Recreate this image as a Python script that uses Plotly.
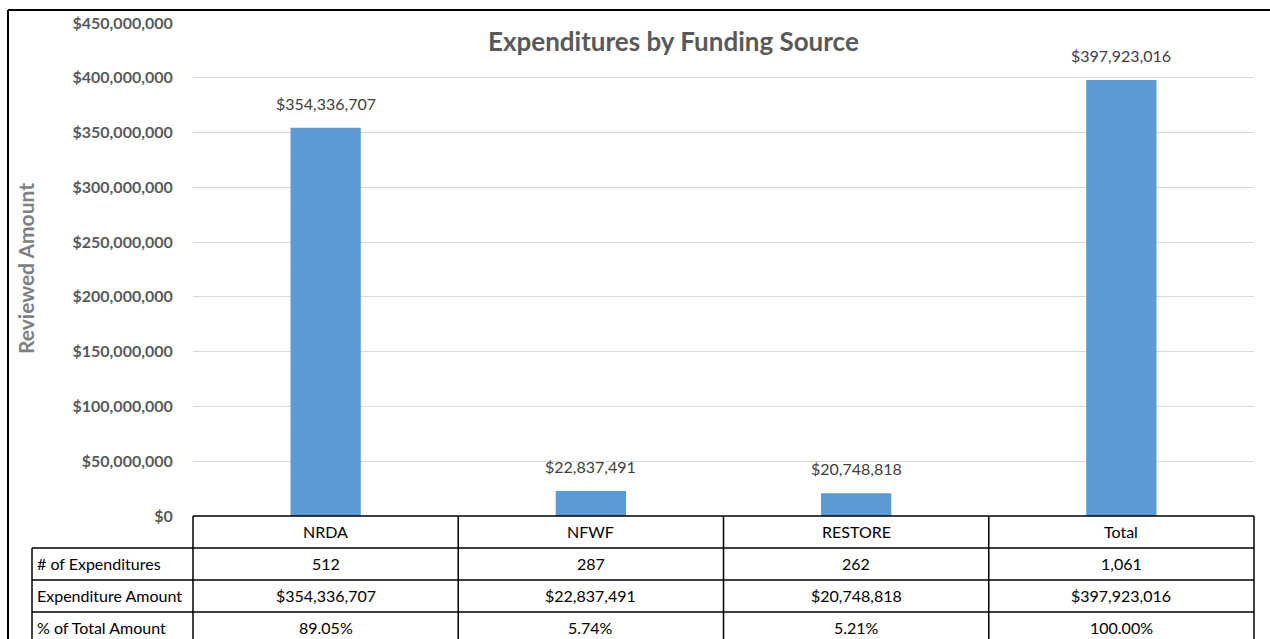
import plotly.graph_objects as go

categories = ["NRDA", "NFWF", "RESTORE", "Total"]
amounts = [354336707, 22837491, 20748818, 397923016]
counts = ["512", "287", "262", "1,061"]
pct_labels = ["89.05%", "5.74%", "5.21%", "100.00%"]
row_labels = ["# of Expenditures", "Expenditure Amount", "% of Total Amount"]

W, H = 1270, 639
FONT = "Lato"

def px(x):
    return x / W

def py(y):
    return (H - y) / H

plot_left, plot_right = 193, 1254
plot_top, plot_bottom = 23, 516
label_left = 32
row_h = 32

fig = go.Figure()
fig.add_trace(go.Bar(
    x=categories, y=amounts,
    marker=dict(color="#5B9BD5", line=dict(width=0)),
    hoverinfo="skip",
))

shapes = []
annotations = []

# value labels above bars
for cat, v in zip(categories, amounts):
    annotations.append(dict(x=cat, y=v, xref="x", yref="y", text=f"${v:,.0f}", showarrow=False,
                            xanchor="center", yanchor="bottom", yshift=13,
                            font=dict(family=FONT, size=16, color="#404040")))

shapes.append(dict(type="line", xref="paper", yref="paper", x0=px(8), x1=px(1270), y0=py(10), y1=py(10),
                   line=dict(color="#000000", width=2)))
shapes.append(dict(type="line", xref="paper", yref="paper", x0=px(8), x1=px(8), y0=py(10), y1=py(645),
                   line=dict(color="#000000", width=2)))

col_w = (plot_right - plot_left) / len(categories)
col_edges = [plot_left + i * col_w for i in range(len(categories) + 1)]
n_rows = 1 + len(row_labels)
row_edges = [plot_bottom + i * row_h for i in range(n_rows + 1)]
line_style = dict(color="#000000", width=1.5)
for i, y in enumerate(row_edges):
    x0 = plot_left if i == 0 else label_left
    shapes.append(dict(type="line", xref="paper", yref="paper", x0=px(x0), x1=px(plot_right),
                       y0=py(y), y1=py(y), line=line_style))
for x in col_edges:
    shapes.append(dict(type="line", xref="paper", yref="paper", x0=px(x), x1=px(x),
                       y0=py(row_edges[0]), y1=py(row_edges[-1]), line=line_style))
shapes.append(dict(type="line", xref="paper", yref="paper", x0=px(label_left), x1=px(label_left),
                   y0=py(row_edges[1]), y1=py(row_edges[-1]), line=line_style))

rows_vals = [counts, [f"${v:,.0f}" for v in amounts], pct_labels]
cell_font = dict(family=FONT, size=16, color="#000000")
for j, cat in enumerate(categories):
    cx = (col_edges[j] + col_edges[j + 1]) / 2
    annotations.append(dict(x=px(cx), y=py(row_edges[0] + row_h / 2 - 1), xref="paper", yref="paper",
                            text=cat, showarrow=False, font=cell_font, xanchor="center", yanchor="middle"))
    for r, vals in enumerate(rows_vals):
        annotations.append(dict(x=px(cx), y=py(row_edges[r + 1] + row_h / 2 - 1), xref="paper", yref="paper",
                                text=vals[j], showarrow=False, font=cell_font, xanchor="center", yanchor="middle"))
for r, lab in enumerate(row_labels):
    annotations.append(dict(x=px(label_left + 3), y=py(row_edges[r + 1] + row_h / 2 - 1), xref="paper", yref="paper",
                            text=lab, showarrow=False, font=cell_font, xanchor="left", yanchor="middle"))

annotations.append(dict(x=px(673), y=py(41), xref="paper", yref="paper", text="<b>Expenditures by Funding Source</b>",
                        showarrow=False, font=dict(family=FONT, size=26, color="#595959"),
                        xanchor="center", yanchor="middle"))
annotations.append(dict(x=px(25), y=py(269), xref="paper", yref="paper", text="<b>Reviewed Amount</b>",
                        showarrow=False, textangle=-90, font=dict(family=FONT, size=21, color="#7F7F7F"),
                        xanchor="center", yanchor="middle"))

fig.update_layout(
    width=W, height=H,
    margin=dict(l=0, r=0, t=0, b=0, pad=0, autoexpand=False),
    paper_bgcolor="white", plot_bgcolor="white",
    showlegend=False,
    bargap=0.735,
    shapes=shapes,
    annotations=annotations,
    hovermode=False,
    xaxis=dict(domain=[px(plot_left), px(plot_right)], showticklabels=False, showgrid=False,
               zeroline=False, showline=False, ticks="", fixedrange=True, automargin=False),
    yaxis=dict(domain=[py(plot_bottom), py(plot_top)], range=[0, 450000000], dtick=50000000,
               tickformat="$,.0f", showgrid=True, gridcolor="#D9D9D9", gridwidth=1,
               zeroline=False, showline=False, ticks="outside", ticklen=16, tickcolor="rgba(0,0,0,0)",
               fixedrange=True, automargin=False,
               tickfont=dict(family=FONT, size=16, color="#595959", weight="bold")),
)

post = (
    "document.body.style.margin='0';"
    "document.body.style.overflow='hidden';"
)
fig.write_html("out.html", config={"displayModeBar": False}, post_script=post)
